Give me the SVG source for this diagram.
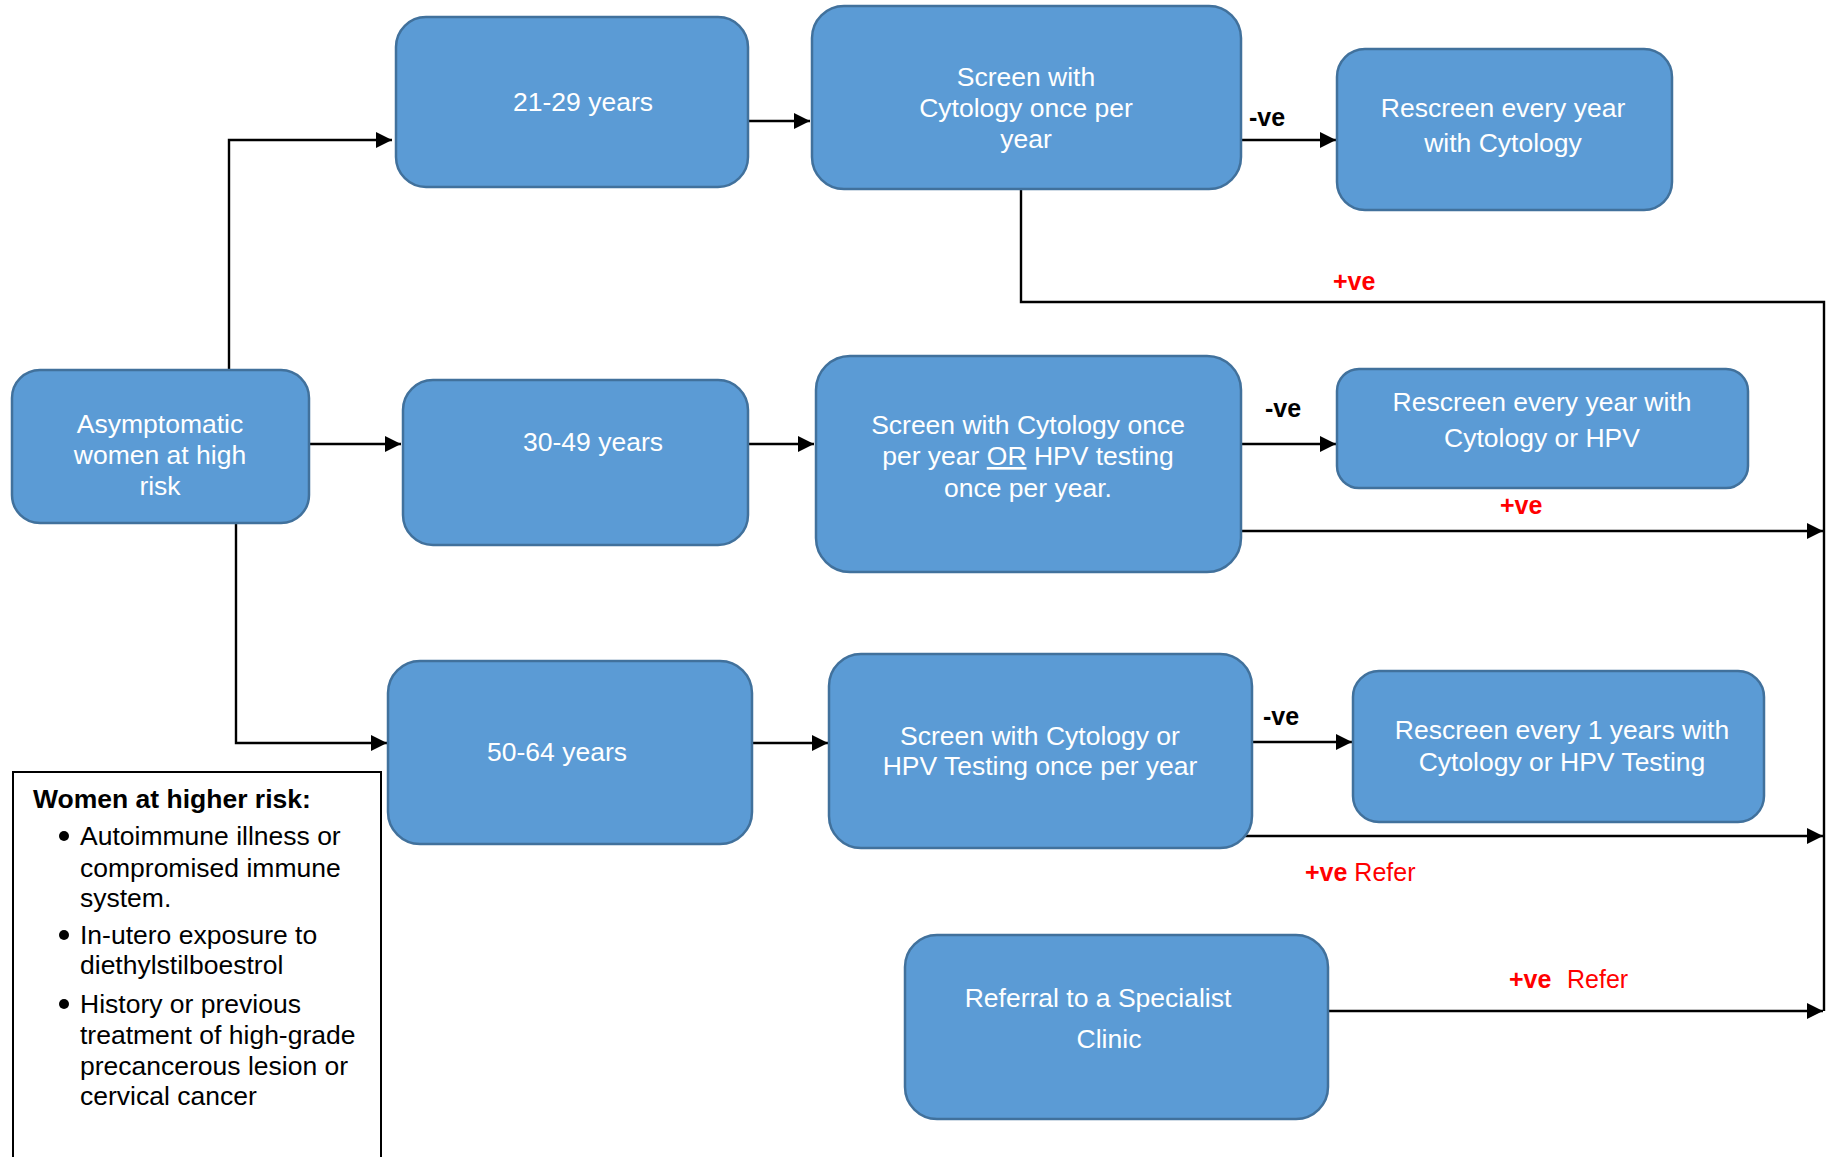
<svg xmlns="http://www.w3.org/2000/svg" width="1826" height="1157" viewBox="0 0 1826 1157">
  <style>
    .box { fill: #5B9BD5; stroke: #41719C; stroke-width: 2.5; }
    .bt { font-family: "Liberation Sans", Arial, sans-serif; font-size: 26.5px; fill: #FFFFFF; text-anchor: middle; }
    .lt { font-family: "Liberation Sans", Arial, sans-serif; font-size: 26.5px; fill: #000000; }
    .neg { font-family: "Liberation Sans", Arial, sans-serif; font-size: 25px; font-weight: bold; fill: #000000; }
    .pos { font-family: "Liberation Sans", Arial, sans-serif; font-size: 25px; fill: #FF0000; }
    .conn { fill: none; stroke: #000000; stroke-width: 2.4; }
  </style>
  <defs>
    <marker id="arrow" viewBox="0 0 10 10" refX="10" refY="5" markerWidth="16" markerHeight="16" markerUnits="userSpaceOnUse" orient="auto">
      <path d="M0,0 L10,5 L0,10 Z" fill="#000000"/>
    </marker>
  </defs>

  <rect width="1826" height="1157" fill="#FFFFFF"/>

  <!-- connectors -->
  <g id="connectors">
    <path class="conn" d="M229,370 V140 H392" marker-end="url(#arrow)"/>
    <path class="conn" d="M748,121 H810" marker-end="url(#arrow)"/>
    <path class="conn" d="M1241,140 H1336" marker-end="url(#arrow)"/>
    <path class="conn" d="M1021,189 V302 H1824 V1011"/>
    <path class="conn" d="M309,444 H401" marker-end="url(#arrow)"/>
    <path class="conn" d="M748,444 H814" marker-end="url(#arrow)"/>
    <path class="conn" d="M1241,444 H1336" marker-end="url(#arrow)"/>
    <path class="conn" d="M1241,531 H1823" marker-end="url(#arrow)"/>
    <path class="conn" d="M236,523 V743 H387" marker-end="url(#arrow)"/>
    <path class="conn" d="M752,743 H828" marker-end="url(#arrow)"/>
    <path class="conn" d="M1252,742 H1352" marker-end="url(#arrow)"/>
    <path class="conn" d="M1245,836 H1823" marker-end="url(#arrow)"/>
    <path class="conn" d="M1328,1011 H1823" stroke-width="3" marker-end="url(#arrow)"/>

    <text class="neg" x="1249" y="126">-ve</text>
    <text class="pos" x="1333" y="290" font-weight="bold">+ve</text>
    <text class="neg" x="1265" y="417">-ve</text>
    <text class="pos" x="1500" y="514" font-weight="bold">+ve</text>
    <text class="neg" x="1263" y="725">-ve</text>
    <text class="pos" x="1305" y="881"><tspan font-weight="bold">+ve</tspan> Refer</text>
    <text class="pos" x="1509" y="988"><tspan font-weight="bold">+ve</tspan><tspan x="1567">Refer</tspan></text>
  </g>

  <!-- start node -->
  <g id="asymptomatic">
    <rect class="box" x="12" y="370" width="297" height="153" rx="28"/>
    <text class="bt" x="160" y="433">Asymptomatic</text>
    <text class="bt" x="160" y="464">women at high</text>
    <text class="bt" x="160" y="495">risk</text>
  </g>

  <!-- 21-29 branch -->
  <g id="age-21-29">
    <rect class="box" x="396" y="17" width="352" height="170" rx="30"/>
    <text class="bt" x="583" y="111">21-29 years</text>
  </g>
  <g id="screen-21-29">
    <rect class="box" x="812" y="6" width="429" height="183" rx="32"/>
    <text class="bt" x="1026" y="86">Screen with</text>
    <text class="bt" x="1026" y="117">Cytology once per</text>
    <text class="bt" x="1026" y="148">year</text>
  </g>
  <g id="rescreen-21-29">
    <rect class="box" x="1337" y="49" width="335" height="161" rx="28"/>
    <text class="bt" x="1503" y="117">Rescreen every year</text>
    <text class="bt" x="1503" y="152">with Cytology</text>
  </g>

  <!-- 30-49 branch -->
  <g id="age-30-49">
    <rect class="box" x="403" y="380" width="345" height="165" rx="30"/>
    <text class="bt" x="593" y="451">30-49 years</text>
  </g>
  <g id="screen-30-49">
    <rect class="box" x="816" y="356" width="425" height="216" rx="34"/>
    <text class="bt" x="1028" y="434">Screen with Cytology once</text>
    <text class="bt" x="1028" y="465">per year <tspan text-decoration="underline">OR</tspan> HPV testing</text>
    <text class="bt" x="1028" y="497">once per year.</text>
  </g>
  <g id="rescreen-30-49">
    <rect class="box" x="1337" y="369" width="411" height="119" rx="22"/>
    <text class="bt" x="1542" y="411">Rescreen every year with</text>
    <text class="bt" x="1542" y="447">Cytology or HPV</text>
  </g>

  <!-- 50-64 branch -->
  <g id="age-50-64">
    <rect class="box" x="388" y="661" width="364" height="183" rx="32"/>
    <text class="bt" x="557" y="761">50-64 years</text>
  </g>
  <g id="screen-50-64">
    <rect class="box" x="829" y="654" width="423" height="194" rx="32"/>
    <text class="bt" x="1040" y="745">Screen with Cytology or</text>
    <text class="bt" x="1040" y="775">HPV Testing once per year</text>
  </g>
  <g id="rescreen-50-64">
    <rect class="box" x="1353" y="671" width="411" height="151" rx="26"/>
    <text class="bt" x="1562" y="739">Rescreen every 1 years with</text>
    <text class="bt" x="1562" y="771">Cytology or HPV Testing</text>
  </g>

  <!-- referral -->
  <g id="referral">
    <rect class="box" x="905" y="935" width="423" height="184" rx="32"/>
    <text class="bt" x="1098" y="1007">Referral to a Specialist</text>
    <text class="bt" x="1109" y="1048">Clinic</text>
  </g>

  <!-- risk factors legend -->
  <g id="legend">
    <rect x="13" y="772" width="368" height="400" fill="#FFFFFF" stroke="#000000" stroke-width="2"/>
    <text class="lt" x="33" y="808" font-weight="bold">Women at higher risk:</text>
    <circle cx="64" cy="836" r="5"/>
    <text class="lt" x="80" y="845">Autoimmune illness or</text>
    <text class="lt" x="80" y="877">compromised immune</text>
    <text class="lt" x="80" y="907">system.</text>
    <circle cx="64" cy="935" r="5"/>
    <text class="lt" x="80" y="944">In-utero exposure to</text>
    <text class="lt" x="80" y="974">diethylstilboestrol</text>
    <circle cx="64" cy="1004" r="5"/>
    <text class="lt" x="80" y="1013">History or previous</text>
    <text class="lt" x="80" y="1044">treatment of high-grade</text>
    <text class="lt" x="80" y="1075">precancerous lesion or</text>
    <text class="lt" x="80" y="1105">cervical cancer</text>
  </g>
</svg>
